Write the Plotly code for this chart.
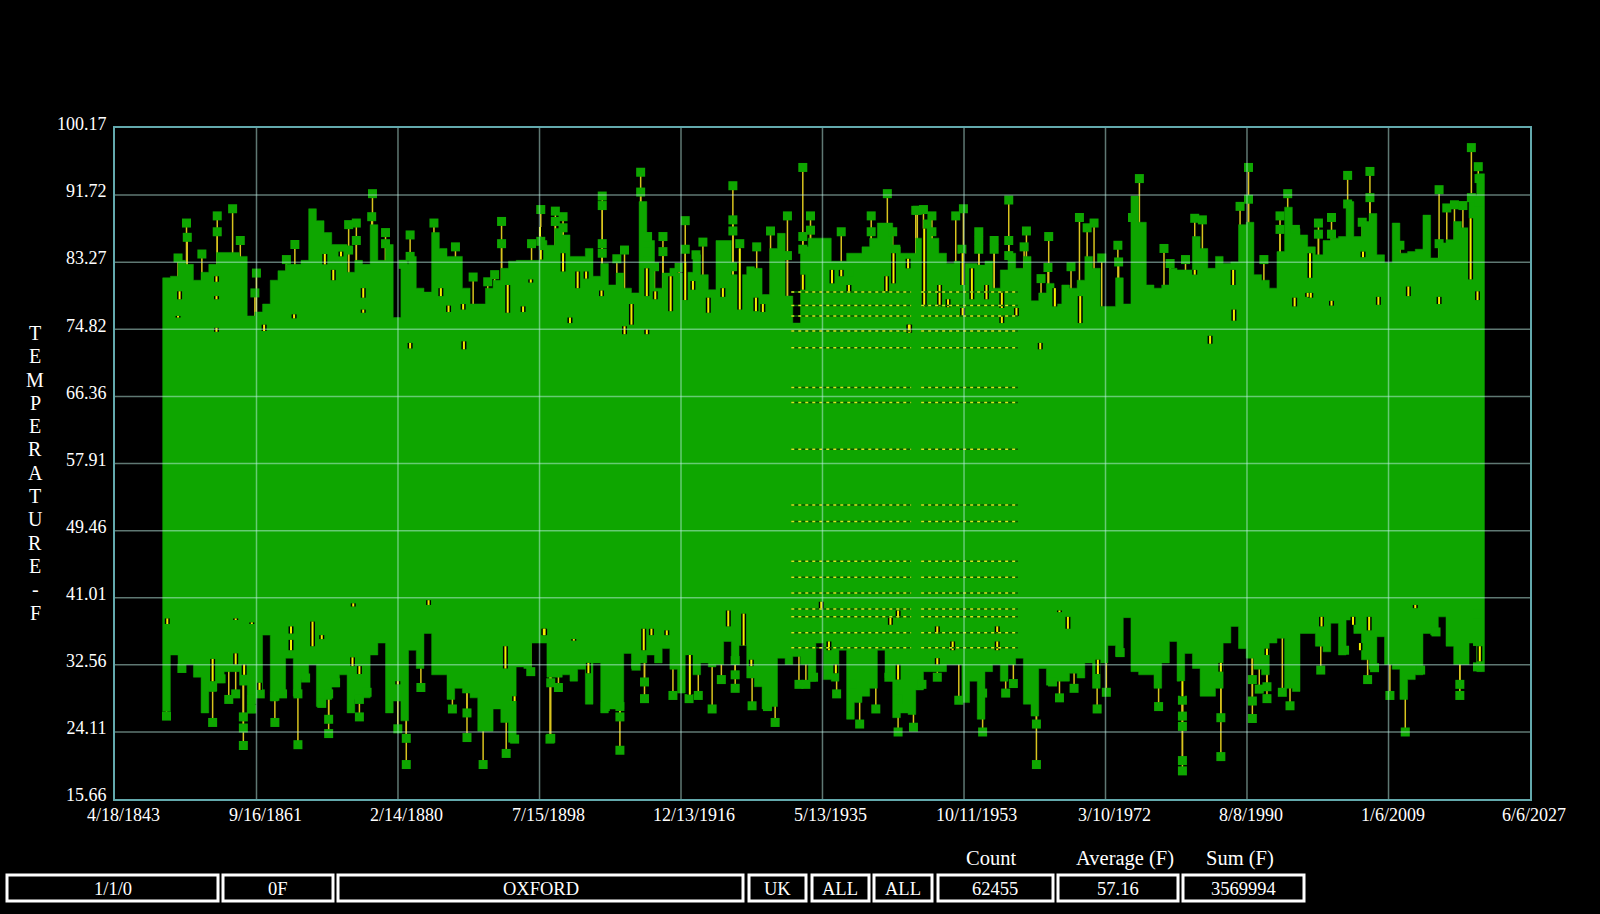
import plotly.graph_objects as go

# ---- axis ticks -------------------------------------------------------
x_tick_values = [1843.296, 1861.71, 1880.12, 1898.54, 1916.95, 1935.36, 1953.78, 1972.19, 1990.60, 2009.02, 2027.43]
x_tick_labels = ["4/18/1843", "9/16/1861", "2/14/1880", "7/15/1898", "12/13/1916", "5/13/1935",
                 "10/11/1953", "3/10/1972", "8/8/1990", "1/6/2009", "6/6/2027"]
y_tick_values = [15.66, 24.11, 32.56, 41.01, 49.46, 57.91, 66.36, 74.82, 83.27, 91.72, 100.17]
y_tick_labels = ["15.66", "24.11", "32.56", "41.01", "49.46", "57.91", "66.36", "74.82", "83.27", "91.72", "100.17"]

# ---- solid band of readings, one column per year ------------------------
years = list(range(1850, 2022))
band_high = [
    81.3, 81.5, 83.5, 83, 81, 82, 83, 84.5, 84.5, 84.5,
    84, 76.5, 77, 78, 81, 82.2, 83, 83, 83.5, 90,
    88.5, 87, 85.5, 85.5, 82, 83.5, 83, 88, 83.5, 85.5,
    76.3, 83, 84, 80, 79.5, 87, 85, 84, 84, 80,
    78, 78, 80, 81, 82.5, 83.4, 83.5, 83.5, 83.5, 86,
    85.4, 87.5, 86.7, 84, 84, 85, 81.5, 83.1, 80.4, 81.9,
    80, 79.4, 90.9, 86, 80, 81.9, 82.5, 81.9, 82, 84.2,
    81.7, 79.8, 86, 86, 81.7, 81.7, 82.7, 82.5, 79.2, 85,
    86.9, 79, 75.6, 85.2, 86.3, 86.3, 86.3, 83.4, 83.4, 84.4,
    84.4, 85.2, 86.3, 88.2, 88.2, 85.2, 84.4, 84.4, 86.3, 88.6,
    86.3, 84.4, 83.1, 83.4, 83.1, 83.1, 82.9, 83.4, 80, 82.3,
    84.4, 82.5, 84, 78.4, 79.4, 80.6, 78, 80.4, 80, 81,
    84, 82.5, 77.7, 77.7, 81.3, 78, 91.6, 88.3, 80.4, 80,
    80.4, 82.5, 82.3, 82.3, 86.5, 85, 82.5, 84, 83.1, 83.3,
    88, 88.3, 81.7, 81, 80, 84.6, 90.2, 87.5, 86.7, 85.2,
    84.2, 86, 86.3, 86.5, 90.9, 86.5, 88.4, 89.4, 84.2, 83.2,
    88.2, 84.4, 84.6, 84.9, 89.2, 83.8, 85.7, 86.1, 88.4, 87.6,
    91.7, 94.4,
]
band_low = [
    26.7, 33.8, 32.6, 32.6, 31, 26.5, 29.2, 30.3, 31.7, 31.7,
    30, 26.5, 28.6, 36.3, 28, 28.6, 33.4, 28.6, 30.7, 32.6,
    27.3, 28.2, 29.8, 31.3, 26.5, 28.2, 28.4, 33.8, 35.3, 26.5,
    28, 25.5, 34.4, 32.1, 36.5, 31.3, 31.3, 28.2, 29.6, 29,
    28.4, 24.2, 24.2, 27, 25.3, 22.8, 32.3, 32.1, 35.3, 35.3,
    31, 31, 31.3, 30.5, 32, 27.6, 32.8, 26.5, 27, 27,
    34, 32.1, 32.8, 33.8, 32.8, 34.6, 32, 29, 33.8, 31.3,
    32.8, 32.3, 32.6, 35.5, 32.6, 35, 30.9, 29.8, 27, 27.3,
    33.4, 32.6, 33.6, 32.6, 30.5, 35.3, 30.7, 30.5, 34.4, 25.7,
    27.8, 28.6, 29.6, 34.4, 30.9, 25.9, 26.5, 26.3, 29.4, 31.7,
    31.7, 31.7, 32.6, 32.6, 27.8, 30.5, 25.7, 31.7, 32.6, 30.5,
    32.6, 33.4, 27.6, 26.1, 32.1, 30, 30.5, 30.5, 31.5, 30.9,
    32.8, 29.6, 32.8, 35, 33.6, 38.5, 31.7, 31.3, 31.3, 29.6,
    32.8, 35.5, 30.5, 34, 32.1, 28.6, 28.6, 29.6, 35.3, 37.4,
    34.6, 33.4, 32, 31.3, 35.3, 35.9, 29.6, 29.2, 36.5, 36.5,
    34.9, 34.2, 37.8, 33.8, 38.2, 36.5, 33.2, 32, 36.1, 32.6,
    32, 28.2, 30.7, 31.3, 36.5, 36.3, 38.6, 34.9, 32.6, 32.6,
    35.3, 31.7,
]
assert len(years) == len(band_high) == len(band_low)

# ---- isolated hot readings ---------------------------------------------
hot_years = [
    1851.5, 1852.6, 1852.7, 1854.6, 1856.6, 1856.6, 1858.6, 1859.6, 1861.7, 1861.5, 1865.6, 1866.7,
    1873.7, 1874.7, 1874.7, 1873.7, 1876.8, 1876.7, 1878.5, 1878.5, 1880.8, 1881.7, 1881.7, 1884.8,
    1887.6, 1889.9, 1891.8, 1892.7, 1893.6, 1893.6, 1897.5, 1898.7, 1898.7, 1900.6, 1900.6, 1901.6,
    1901.6, 1906.7, 1906.7, 1906.7, 1906.7, 1908.6, 1909.6, 1911.7, 1911.7, 1912.6, 1912.6, 1913.5,
    1914.6, 1914.6, 1916.7, 1917.5, 1917.5, 1919.8, 1918.9, 1923.7, 1923.7, 1923.7, 1923.7, 1924.6,
    1926.8, 1928.6, 1930.8, 1930.8, 1932.8, 1932.8, 1932.8, 1933.8, 1933.8, 1937.8, 1938.8, 1941.7,
    1941.7, 1943.8, 1944.5, 1944.9, 1947.7, 1947.5, 1948.5, 1949.6, 1949.6, 1952.7, 1953.7, 1953.5,
    1955.7, 1955.7, 1955.7, 1957.7, 1957.7, 1959.6, 1959.6, 1959.6, 1961.9, 1961.6, 1964.8, 1964.7,
    1963.8, 1967.7, 1968.8, 1969.8, 1970.7, 1971.7, 1973.8, 1973.9, 1976.6, 1975.7, 1979.8, 1980.6,
    1982.6, 1983.8, 1984.8, 1989.7, 1990.8, 1990.8, 1992.8, 1994.9, 1994.9, 1995.9, 1996.9, 1999.9,
    1999.9, 2001.6, 2001.6, 2003.7, 2003.7, 2005.6, 2006.6, 2006.6, 2010.5, 2015.6, 2015.6, 2016.6,
    2017.6, 2018.7, 2019.8, 2019.8, 2020.7, 2020.8, 2020.8,
]
hot_temps = [
    83.8, 88.2, 86.4, 84.3, 89.1, 87.1, 90, 86, 81.9, 79.4, 83.6, 85.5,
    88, 88.2, 86, 84.8, 91.9, 89, 87, 85.6, 83, 86.7, 84, 88.2,
    85.2, 81.4, 80.8, 81.7, 88.4, 85.6, 85.6, 89.9, 85.9, 89.7, 88.4, 89,
    87.6, 91.6, 90.4, 85.6, 84.4, 83.7, 84.8, 94.6, 92.1, 86.5, 84.6, 82.7,
    86.5, 84.6, 82.6, 88.5, 84.9, 85.8, 84.2, 92.9, 88.6, 87.2, 82.7, 85.6,
    85.2, 87.2, 89.1, 84.1, 95.2, 86.5, 84.9, 89.1, 87.3, 87.1, 82, 89.1,
    87.1, 91.9, 87.1, 84.9, 89.8, 89.8, 89.9, 89.1, 87.1, 89.1, 90, 84.9,
    87.1, 86, 84.9, 86, 84.9, 91.1, 86, 84.1, 87.2, 85.2, 86.5, 82.6,
    81.2, 82.7, 88.9, 87.6, 88.2, 83.8, 85.4, 83.3, 93.8, 88.9, 85, 83.1,
    83.6, 88.8, 88.6, 90.3, 95.2, 91.2, 83.6, 89.1, 87.4, 91.9, 87.4, 88.2,
    86.8, 88.9, 86.8, 94.2, 90.6, 88.3, 94.7, 91.4, 85.4, 92.4, 85.6, 90.1,
    90.5, 90.4, 97.7, 91.4, 95.3, 93.8, 90.9,
]
assert len(hot_years) == len(hot_temps)

# ---- isolated cold readings --------------------------------------------
cold_years = [
    1850, 1852, 1856, 1856, 1857.1, 1858.1, 1859, 1860, 1860, 1860, 1861.1, 1861.1, 1862.2,
    1864.1, 1864.1, 1865.1, 1867.1, 1867.1, 1868.1, 1870.2, 1871.1, 1871.1, 1871.1, 1872,
    1875.1, 1875.1, 1876.1, 1880.1, 1881.2, 1881.2, 1883.1, 1887.2, 1889.1, 1889.1, 1891.2,
    1894.2, 1895.3, 1897.4, 1899.9, 1900, 1900, 1901, 1907.1, 1909, 1909, 1909, 1911.1, 1912.2,
    1912.2, 1915.9, 1918, 1919.2, 1921, 1922.2, 1924, 1924, 1924, 1926.2, 1928.2, 1929.2,
    1932.3, 1933.2, 1934.2, 1937.2, 1939.2, 1940.2, 1942.3, 1944, 1945.2, 1945.2, 1947.2,
    1948.3, 1950.3, 1953.1, 1956.2, 1956.2, 1959.2, 1960.2, 1963.2, 1963.2, 1965.3, 1966.2,
    1968.1, 1971.1, 1972.3, 1974.1, 1979.1, 1982.2, 1982.2, 1982.2, 1982.2, 1982.2, 1987.2,
    1987.2, 1990.2, 1991.3, 1991.3, 1991.3, 1992.2, 1993.2, 1993.2, 1995.2, 1996.2, 2000.2,
    2003.3, 2006.3, 2007.2, 2009.2, 2011.2, 2013.2, 2015.2, 2018.3, 2018.3, 2020.6, 2020.6, 2020.6,
]
cold_temps = [
    26.1, 32.1, 25.3, 29.8, 30.8, 28.2, 28.9, 26, 24.6, 22.4, 27, 28.2, 28.9,
    25.3, 28.6, 28.9, 22.5, 28.9, 30.9, 27.7, 28.9, 23.9, 25.7, 30.3,
    26, 28.2, 29.1, 24.5, 23.3, 20, 29.7, 27, 26.5, 23.4, 20,
    21.4, 23.2, 31.7, 23.2, 23.3, 30.3, 29.7, 27.3, 26, 21.8, 27.3, 32.4, 30.4,
    28.3, 28.7, 28.3, 28.7, 27, 30.7, 31.3, 29.6, 33.1, 27.4, 27.3, 25.3,
    30.1, 30.1, 31, 28.9, 30.1, 25.1, 27, 31, 24.1, 28.2, 24.7,
    30.1, 31, 28.1, 24.1, 29, 29, 30.2, 25.1, 20, 30.4, 28.4,
    29.6, 27, 29.1, 34.1, 27.3, 28.1, 26.1, 24.8, 20.5, 19.2, 25.9,
    21, 35.2, 30.7, 28, 25.8, 29.5, 29.8, 28.3, 29.1, 27.4, 31.9,
    34.4, 30.7, 32.2, 28.7, 24.1, 31.9, 36.7, 30.1, 28.7, 32.3, 35.5, 39,
]
assert len(cold_years) == len(cold_temps)

# ---- gaps in the band where the yellow range line shows through ---------
gap_years = [
    1851.7, 1856.5, 1856.5, 1856.5, 1851.5, 1870.6, 1871.7, 1872.7, 1875.6, 1875.6, 1881.7, 1888.7,
    1885.7, 1886.7, 1888.6, 1866.6, 1862.7,
    1898.6, 1898.7, 1901.6, 1903.5, 1904.6, 1906.6, 1910.5, 1909.6, 1912.5, 1902.5, 1912.5, 1913.6,
    1915.6, 1917.5, 1918.5, 1920.5, 1922.4, 1924.6, 1926.7, 1927.6, 1932.8, 1936.6, 1937.8, 1938.8,
    1943.7, 1944.6, 1894.4, 1897.4, 1896.4, 1946.7,
    1948.6, 1950.6, 1951.7, 1953.6, 1953.6, 1954.8, 1956.7, 1958.7, 1960.6, 1958.7, 1965.6, 1968.9,
    1963.7, 1946.6, 1946.5, 1985.8, 1988.9, 1996.8, 1998.9, 1983.8, 1988.8, 1998.8,
    2011.6, 2005.7, 2007.7, 2015.6, 2020.6, 2019.7, 2001.6, 1998.5,
    1850.1, 1859, 1860.1, 1862.1, 1856, 1866.2, 1866.2, 1869, 1870.2, 1874.2, 1875.1, 1894.1, 1895.3,
    1899.2, 1884.1, 1874.3, 1880.1, 1859, 1861.1,
    1899.1, 1903, 1912.1, 1913.1, 1915.1, 1918.1, 1923.1, 1925.1, 1945.2, 1944.2, 1950.3, 1935.2,
    1904.9, 1936.2, 1926.1, 1945.2, 1937.1, 1950.3,
    1958.1, 1958.1, 1952.3, 1967.3, 1971.2, 2004.4, 2006.5, 2005.3, 1982.2, 1987.2, 1993.2, 2012.5,
    2000.3, 2020.9, 1966.2,
]
gap_high = [
    79.6, 81.5, 79, 75, 76.5, 84.3, 82.3, 84.6, 80, 77.3, 73.1, 73.3,
    80, 77.8, 78, 76.7, 75.4,
    87.7, 84.8, 84.4, 82.1, 82.1, 79.7, 78, 75.2, 74.8, 76.3, 82.5, 79.6,
    81.5, 83.3, 80.9, 78.8, 80, 85, 78.8, 78, 81.7, 82.3, 82.3, 80.4,
    81.5, 84.4, 80.4, 81.1, 77.7, 75.4,
    87.5, 80.4, 78.6, 84.4, 77.5, 82.5, 80.4, 79.6, 77.5, 76.5, 80, 79,
    73.1, 75.4, 83.7, 74, 77.3, 78.8, 79.4, 82.3, 82.3, 84.4,
    80.2, 84.6, 78.9, 78.9, 79.6, 88.8, 78.4, 79.4,
    38.4, 34, 32.6, 30.3, 33.3, 37.4, 35.7, 38, 36.3, 33.5, 32.4, 34.9, 28.6,
    37.1, 40.7, 40.3, 30.5, 38.4, 37.9,
    37.1, 35.8, 37.1, 37.1, 36.9, 33.8, 39.4, 39, 39.4, 38.5, 37.4, 40.5,
    32.8, 35.5, 33.2, 32.6, 32.6, 33.4,
    37.4, 35.5, 35.5, 38.6, 33.2, 38.6, 38.6, 35.3, 30.5, 32.8, 34.6, 40.1,
    38.6, 34.9, 39.4,
]
gap_low = [
    78.6, 80.8, 78.6, 74.5, 76.3, 83, 81, 84, 78.8, 76.9, 72.4, 72.3,
    79, 77, 77.3, 76.2, 74.6,
    86.5, 83.6, 82.1, 80, 81.2, 79, 75.4, 74.2, 74.2, 75.6, 79, 78.6,
    77.1, 78.5, 79.8, 76.9, 78.9, 77.3, 77.1, 77, 79.8, 80.6, 81.5, 79.5,
    79.6, 80.6, 76.9, 80.7, 77, 74.4,
    77.7, 77.7, 77.6, 80.4, 76.5, 78.6, 78.6, 77.5, 76.5, 75.6, 77.7, 75.6,
    72.3, 74.4, 82.5, 73, 75.9, 77.7, 78.8, 81.7, 80.4, 81.3,
    79, 83.9, 77.9, 78, 78.5, 81.1, 77.8, 78.9,
    37.7, 32.6, 31.3, 29.4, 30.5, 36.5, 34.4, 34.9, 35.8, 32.4, 31.4, 32.1, 28,
    36.3, 40.1, 39.9, 30.1, 38.2, 37.7,
    36.3, 35.6, 34.4, 36.3, 36.3, 28.8, 37.4, 35, 38.5, 37.6, 36.5, 39.6,
    31.5, 34.4, 32.4, 30.7, 31.5, 32.6,
    36.5, 34.4, 34.4, 37.1, 31.4, 37.6, 36.9, 34.4, 28.6, 31.7, 33.8, 39.7,
    37.4, 33, 39.2,
]
assert len(gap_years) == len(gap_high) == len(gap_low)

# ---- rows of rounded readings, 1931-1960 --------------------------------
row_temps = [79.5, 77.8, 76.5, 74.6, 72.5, 67.5, 65.6, 59.7, 52.7, 50.6, 45.6, 43.6, 41.6, 39.6, 38.6, 36.6, 34.7]
row_spans = [(1931.3, 1946.9), (1948.2, 1960.8)]

AVERAGE = 57.16
GREEN = "#0ea600"
YELLOW = "#f2f000"
GRID = "rgba(190,240,230,0.5)"
FRAME = "#63a9ad"
SERIF = "Liberation Serif"

# ---- readout boxes under the chart: (label, left, right) in page pixels --
boxes = [("1/1/0", 7, 218), ("0F", 223, 333), ("OXFORD", 338, 743), ("UK", 749, 806),
         ("ALL", 812, 869), ("ALL", 874, 932), ("62455", 938, 1053), ("57.16", 1058, 1178),
         ("3569994", 1183, 1304)]
box_titles = [("Count", 991), ("Average (F)", 1125), ("Sum (F)", 1240)]
axis_title_letters = list("TEMPERATURE-F")

PLOT_L, PLOT_T, PLOT_W, PLOT_H = 115, 128, 1415, 671


def px(x):
    return (x - PLOT_L) / PLOT_W


def py(y):
    return 1 - (y - PLOT_T) / PLOT_H


fig = go.Figure()

# the solid band, one flat-topped column per year, as a single closed outline
band_x, band_y = [], []
for yr, h in zip(years, band_high):
    band_x += [yr - 0.5, yr + 0.5]
    band_y += [h, h]
for yr, l in zip(reversed(years), reversed(band_low)):
    band_x += [yr + 0.5, yr - 0.5]
    band_y += [l, l]
band_x.append(band_x[0])
band_y.append(band_y[0])

# yellow range lines from each isolated reading toward the middle of the band
stem_x, stem_y = [], []
for yr, t in zip(hot_years + cold_years, hot_temps + cold_temps):
    stem_x += [yr, yr, None]
    stem_y += [t, AVERAGE, None]
fig.add_trace(go.Scatter(x=stem_x, y=stem_y, mode="lines", line=dict(color="#d9c41e", width=1.5), hoverinfo="skip"))

fig.add_trace(go.Scatter(x=band_x, y=band_y, mode="lines", fill="toself", fillcolor=GREEN,
                         line=dict(color=GREEN, width=0.5), hoverinfo="skip"))

# square markers of isolated readings
fig.add_trace(go.Scatter(x=hot_years + cold_years, y=hot_temps + cold_temps, mode="markers",
                         marker=dict(symbol="square", size=9, color=GREEN, opacity=1, line=dict(width=0)),
                         hoverinfo="skip"))

# gaps
gx, gy = [], []
for yr, hi, lo in zip(gap_years, gap_high, gap_low):
    gx += [yr, yr, None]
    gy += [hi, lo, None]
fig.add_trace(go.Scatter(x=gx, y=gy, mode="lines", line=dict(color="#000000", width=5), hoverinfo="skip"))
fig.add_trace(go.Scatter(x=gx, y=gy, mode="lines", line=dict(color=YELLOW, width=2), hoverinfo="skip"))

# rows
rx, ry = [], []
for t in row_temps:
    for a, b in row_spans:
        rx += [a, b, None]
        ry += [t, t, None]
fig.add_trace(go.Scatter(x=rx, y=ry, mode="lines", line=dict(color="#075c00", width=1.5), hoverinfo="skip"))
fig.add_trace(go.Scatter(x=rx, y=ry, mode="lines", line=dict(color="#d8e820", width=1.5, dash="3px,4px"), hoverinfo="skip"))

shapes = []
for v in x_tick_values[1:-1]:
    shapes.append(dict(type="line", xref="x", yref="paper", x0=v, x1=v, y0=0, y1=1,
                       line=dict(color=GRID, width=1.5), layer="above"))
for v in y_tick_values[1:-1]:
    shapes.append(dict(type="line", xref="paper", yref="y", x0=0, x1=1, y0=v, y1=v,
                       line=dict(color=GRID, width=1.5), layer="above"))
for _, a, b in boxes:
    shapes.append(dict(type="rect", xref="paper", yref="paper", x0=px(a), x1=px(b), y0=py(875), y1=py(901),
                       line=dict(color="#ffffff", width=3), fillcolor="rgba(0,0,0,0)", layer="above"))

annotations = []
for label, a, b in boxes:
    annotations.append(dict(text=label, xref="paper", yref="paper", x=px((a + b) / 2), y=py(889), xanchor="center",
                            yanchor="middle", showarrow=False, font=dict(family=SERIF, size=18.5, color="#ffffff")))
for label, c in box_titles:
    annotations.append(dict(text=label, xref="paper", yref="paper", x=px(c), y=py(858), xanchor="center",
                            yanchor="middle", showarrow=False, font=dict(family=SERIF, size=20.5, color="#ffffff")))
for i, letter in enumerate(axis_title_letters):
    annotations.append(dict(text=letter, xref="paper", yref="paper", x=px(35), y=py(333 + i * 23.3), xanchor="center",
                            yanchor="middle", showarrow=False, font=dict(family=SERIF, size=20, color="#ffffff")))
# date labels start left of their grid line, so they are anchored by their left edge
for v, label in zip(x_tick_values, x_tick_labels):
    annotations.append(dict(text=label, xref="x", yref="paper", x=v, y=py(815), xshift=-30, xanchor="left",
                            yanchor="middle", showarrow=False, font=dict(family=SERIF, size=18, color="#ffffff")))

fig.update_layout(
    width=1600, height=914, autosize=False,
    margin=dict(l=PLOT_L, r=1600 - PLOT_L - PLOT_W, t=PLOT_T, b=914 - PLOT_T - PLOT_H, pad=0),
    paper_bgcolor="#000000", plot_bgcolor="#000000", showlegend=False,
    font=dict(family=SERIF, size=18, color="#ffffff"),
    shapes=shapes, annotations=annotations,
    xaxis=dict(range=[x_tick_values[0], x_tick_values[-1]], tickmode="array", tickvals=x_tick_values,
               ticktext=x_tick_labels, showticklabels=False, showgrid=False, zeroline=False, showline=True,
               mirror=True, linecolor=FRAME, linewidth=2, ticks=""),
    yaxis=dict(range=[y_tick_values[0], y_tick_values[-1]], tickmode="array", tickvals=y_tick_values,
               ticktext=y_tick_labels, showgrid=False, zeroline=False, showline=True, mirror=True,
               linecolor=FRAME, linewidth=2, ticks="", ticklabelstandoff=3, ticklabelshift=-4,
               tickfont=dict(family=SERIF, size=18, color="#ffffff")),
)

fig.write_html("out.html", config={"displayModeBar": False},
               post_script="document.body.style.margin='0';document.body.style.background='#000';")
